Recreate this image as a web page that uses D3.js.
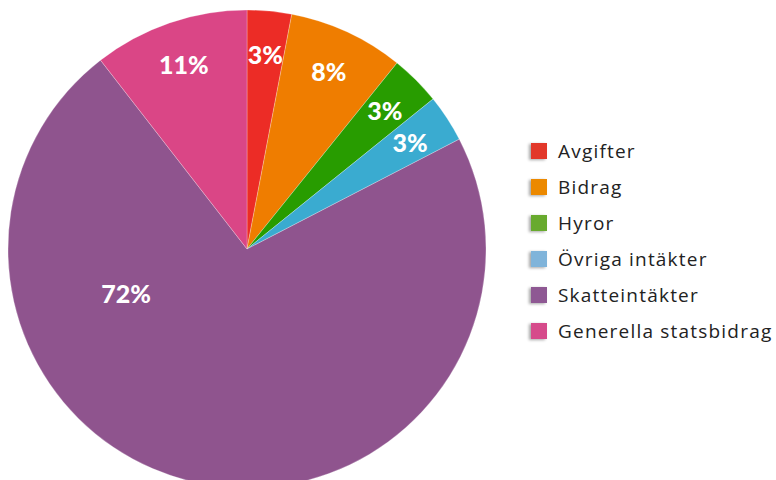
<!DOCTYPE html>
<html>
<head>
<meta charset="utf-8">
<script src="https://cdn.jsdelivr.net/npm/d3@7"></script>
<style>
  body { margin: 0; background: #fff; }
  svg { display: block; }
  .label { font-family: Lato, "DejaVu Sans", sans-serif; font-weight: 900; fill: #fff; }
  .legend text { font-family: "Open Sans", "Noto Sans", sans-serif; fill: #222; }
</style>
</head>
<body>
<script>
// data
var categories = ["Avgifter", "Bidrag", "Hyror", "Övriga intäkter", "Skatteintäkter", "Generella statsbidrag"];
var values = [3.0, 7.8, 3.4, 3.2, 72.1, 10.5];
var sliceColors = ["#ec2c26", "#ef7d00", "#289c00", "#3aabd0", "#8f548e", "#da4686"];
var legendColors = ["#e2392a", "#ec8900", "#67aa2d", "#80b4da", "#8e5993", "#d64b8b"];

var width = 776, height = 480;
var cx = 247, cy = 249, radius = 239;

var svg = d3.select("body").append("svg")
  .attr("width", width)
  .attr("height", height);

// shadow for legend squares
var defs = svg.append("defs");
var f = defs.append("filter").attr("id", "shadow")
  .attr("x", "-50%").attr("y", "-50%").attr("width", "200%").attr("height", "200%");
f.append("feDropShadow")
  .attr("dx", -2).attr("dy", 1)
  .attr("stdDeviation", 1.5)
  .attr("flood-color", "#000")
  .attr("flood-opacity", 0.35);

var data = categories.map(function(c, i) { return {name: c, value: values[i], i: i}; });

var pie = d3.pie().sort(null).value(function(d) { return d.value; });
var arc = d3.arc().innerRadius(0).outerRadius(radius);
var arcs = pie(data);

var g = svg.append("g").attr("transform", "translate(" + cx + "," + cy + ")");

g.selectAll("path.slice")
  .data(arcs)
  .enter().append("path")
  .attr("class", "slice")
  .attr("d", arc)
  .attr("fill", function(d) { return sliceColors[d.data.i]; })
  .attr("stroke", "#fff")
  .attr("stroke-opacity", 0.5)
  .attr("stroke-width", 0.5);

// labels: small slices near the rim, the big one pulled inward
function labelPos(d) {
  var span = d.endAngle - d.startAngle;
  var a, r;
  if (d.data.value > 50) {
    a = d.startAngle + 0.72 * span;
    r = radius * 0.54;
  } else {
    a = (d.startAngle + d.endAngle) / 2;
    r = radius * 0.815;
  }
  return [Math.sin(a) * r, -Math.cos(a) * r];
}

g.selectAll("text.label")
  .data(arcs)
  .enter().append("text")
  .attr("class", "label")
  .attr("x", function(d) { return labelPos(d)[0]; })
  .attr("y", function(d) { return labelPos(d)[1]; })
  .attr("dy", "0.36em")
  .attr("text-anchor", "middle")
  .style("font-size", "25px")
  .text(function(d) { return Math.round(d.data.value) + "%"; });

// legend
var legendY = d3.scaleBand()
  .domain(categories)
  .range([133, 349]);

var legend = svg.append("g").attr("class", "legend");
var item = legend.selectAll("g")
  .data(categories)
  .enter().append("g")
  .attr("transform", function(d) { return "translate(531," + (legendY(d) + legendY.bandwidth() / 2) + ")"; });

item.append("rect")
  .attr("x", 0)
  .attr("y", -8)
  .attr("width", 16)
  .attr("height", 16)
  .attr("fill", function(d, i) { return legendColors[i]; })
  .attr("filter", "url(#shadow)");

item.append("text")
  .attr("x", 27)
  .attr("y", 7)
  .style("font-size", "19px")
  .style("letter-spacing", "1.2px")
  .text(function(d) { return d; });
</script>
</body>
</html>
